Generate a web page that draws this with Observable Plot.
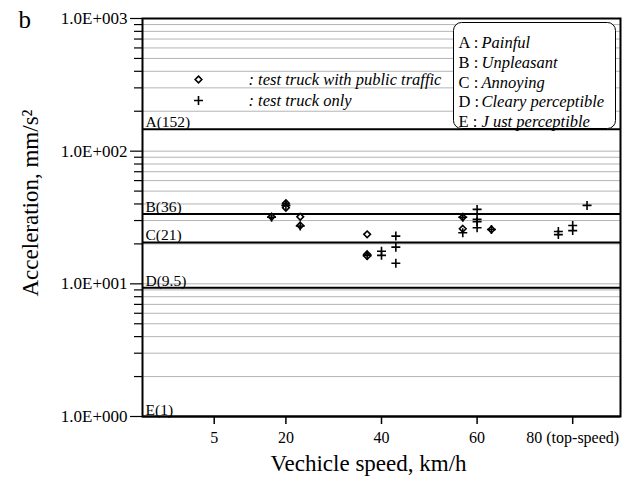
<!DOCTYPE html>
<html>
<head>
<meta charset="utf-8">
<script src="https://cdn.jsdelivr.net/npm/d3@7"></script>
<script src="https://cdn.jsdelivr.net/npm/@observablehq/plot@0.6"></script>
<style>
  html, body { margin: 0; padding: 0; background: #fff; }
</style>
</head>
<body>
<div id="chart"></div>
<script>
// ---- data ----
const speedTicks = [5, 20, 40, 60, 80];
const speedTickLabels = ["5", "20", "40", "60", "80 (top-speed)"];
const accelTicks = [1, 10, 100, 1000];
const accelTickLabels = ["1.0E+000", "1.0E+001", "1.0E+002", "1.0E+003"];
const minorTicks = [2, 3, 4, 5, 6, 7, 8, 9, 20, 30, 40, 50, 60, 70, 80, 90, 200, 300, 400, 500, 600, 700, 800, 900];
const gridValues = [2, 3, 4, 5, 6, 7, 8, 9, 10, 20, 30, 40, 50, 60, 70, 80, 90, 100, 200, 300, 400, 500, 600, 700, 800, 900];

const levelLabels = ["A(152)", "B(36)", "C(21)", "D(9.5)", "E(1)"];
const levelValues = [146, 33.6, 20.5, 9.35, 1];

const legendLetters = ["A :", "B :", "C :", "D :", "E :"];
const legendNames = ["Painful", "Unpleasant", "Annoying", "Cleary perceptible", "J ust perceptible"];

const publicSpeed = [17, 20, 20, 20, 23, 23, 37, 37, 37, 57, 57, 63];
const publicAccel = [32, 40.5, 39, 37.5, 32, 27.5, 23.6, 16.7, 16.2, 31.8, 26.0, 25.7];

const truckSpeed = [17, 20, 23, 37, 40, 40, 43, 43, 43, 57, 57, 60, 60, 60, 60, 63, 77, 77, 80, 80, 83];
const truckAccel = [31.8, 39, 27.3, 16.4, 17.6, 16.4, 22.9, 18.9, 14.3, 31.8, 24.3, 36.4, 30.6, 29.4, 26.5, 25.7, 24.8, 23.5, 27.5, 25.2, 39];

const yTitle = "Acceleration, mm/s²";
const xTitle = "Vechicle speed, km/h";
const panelLabel = "b";

// ---- tables ----
const publicData = publicSpeed.map((s, i) => ({speed: s, accel: publicAccel[i]}));
const truckData = truckSpeed.map((s, i) => ({speed: s, accel: truckAccel[i]}));
const levels = levelValues.map((v, i) => ({value: v, label: levelLabels[i]}));

const font = "'Liberation Serif', 'Times New Roman', serif";

const chart = Plot.plot({
  width: 631,
  height: 479,
  marginLeft: 142,
  marginRight: 11,
  marginTop: 18,
  marginBottom: 63,
  style: {fontFamily: font, fontSize: "16px", background: "#fff", color: "#000", overflow: "visible"},
  x: {domain: [-10, 90], axis: null},
  y: {type: "log", domain: [1, 1000], axis: null},
  marks: [
    Plot.ruleY(gridValues, {stroke: "#b4b4b4", strokeWidth: 1}),
    Plot.ruleY(levels, {y: "value", stroke: "#000", strokeWidth: 2}),
    Plot.text(levels, {y: "value", text: "label", frameAnchor: "left", textAnchor: "start", lineAnchor: "bottom", dx: 3, dy: -2, fontSize: 15.5}),
    // rating box
    Plot.frame({insetLeft: 311, insetRight: 5, insetTop: 4, insetBottom: 288, rx: 8, fill: "#fff", stroke: "#000", strokeWidth: 1}),
    Plot.text([legendLetters.join("\n")], {frameAnchor: "top-left", textAnchor: "start", lineAnchor: "top", dx: 316, dy: 15.5, lineHeight: 1.2, fontSize: 16.5}),
    Plot.text([legendNames.join("\n")], {frameAnchor: "top-left", textAnchor: "start", lineAnchor: "top", dx: 339, dy: 15.5, lineHeight: 1.2, fontSize: 16.5, fontStyle: "italic"}),
    // symbol legend
    Plot.dot([0], {frameAnchor: "top-left", dx: 56, dy: 61, symbol: "diamond2", r: 3, stroke: "#000", strokeWidth: 1.6, fill: "#fff"}),
    Plot.dot([0], {frameAnchor: "top-left", dx: 56, dy: 82, symbol: "plus", r: 3, stroke: "#000", strokeWidth: 1.6}),
    Plot.text([": test truck with public traffic"], {frameAnchor: "top-left", textAnchor: "start", lineAnchor: "bottom", dx: 106, dy: 66, fontSize: 16.5, fontStyle: "italic"}),
    Plot.text([": test truck only"], {frameAnchor: "top-left", textAnchor: "start", lineAnchor: "bottom", dx: 106, dy: 87, fontSize: 16.5, fontStyle: "italic"}),
    // data
    Plot.dot(publicData, {x: "speed", y: "accel", symbol: "diamond2", r: 3, stroke: "#000", strokeWidth: 1.6, fill: "#fff"}),
    Plot.dot(truckData, {x: "speed", y: "accel", symbol: "plus", r: 3, stroke: "#000", strokeWidth: 1.6}),
    // axes
    Plot.axisY({ticks: minorTicks, anchor: "left", tickSize: 8, tickFormat: () => "", strokeWidth: 1.2, label: null}),
    Plot.axisY({ticks: accelTicks, anchor: "left", tickSize: 12, tickPadding: 3, strokeWidth: 1.2, fontSize: 17, label: null,
      tickFormat: d => accelTickLabels[accelTicks.indexOf(d)]}),
    Plot.axisX({ticks: speedTicks, anchor: "bottom", tickSize: 8, tickPadding: 7, strokeWidth: 1.5, fontSize: 16, label: null,
      tickFormat: d => speedTickLabels[speedTicks.indexOf(d)]}),
    Plot.frame({stroke: "#000", strokeWidth: 2}),
    // titles
    Plot.text([xTitle], {frameAnchor: "bottom", lineAnchor: "bottom", dx: -13, dy: 54, fontSize: 23}),
    Plot.text([panelLabel], {frameAnchor: "top-left", textAnchor: "start", lineAnchor: "bottom", dx: -124, dy: 9, fontSize: 25})
  ]
});

// rotated y-axis title
d3.select(chart).append("text")
  .attr("transform", "translate(30,203) rotate(-90)")
  .attr("text-anchor", "middle")
  .attr("dominant-baseline", "central")
  .attr("font-family", font)
  .attr("font-size", 23)
  .attr("fill", "#000")
  .text(yTitle);

document.getElementById("chart").appendChild(chart);
</script>
</body>
</html>
